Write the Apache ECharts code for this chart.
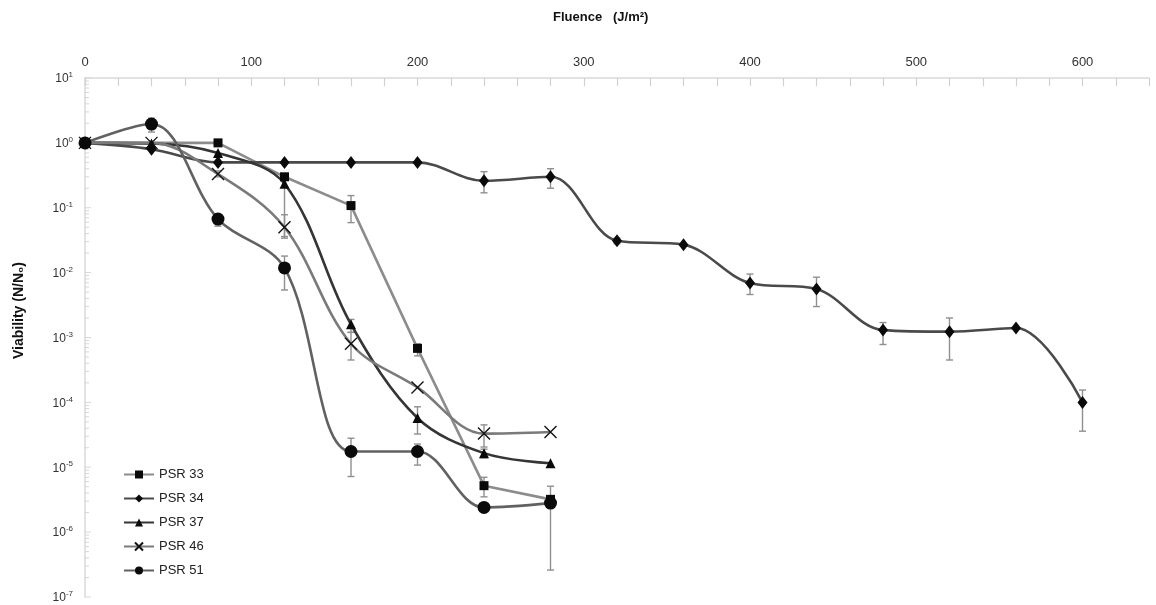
<!DOCTYPE html>
<html>
<head>
<meta charset="utf-8">
<script src="https://cdn.jsdelivr.net/npm/echarts@6/dist/echarts.min.js"></script>
<style>
  html, body { margin: 0; padding: 0; background: #fff; }
  #chart { width: 1156px; height: 605px; }
</style>
</head>
<body>
<div id="chart"></div>
<script>
// Fluence doses (J/m²)
const fluenceShort = [0, 40, 80, 120, 160, 200, 240, 280];
const fluence33 = [0, 80, 120, 160, 200, 240, 280];
const fluence34 = [0, 40, 80, 120, 160, 200, 240, 280, 320, 360, 400, 440, 480, 520, 560, 600];

// Viability N/N0 per strain
const psr33 = [1.0, 1.0, 0.30, 0.108, 0.00068, 0.0000052, 0.0000032];
const psr34 = [1.0, 0.80, 0.50, 0.50, 0.50, 0.50, 0.26, 0.30, 0.031, 0.027, 0.0069, 0.0056, 0.0013, 0.00123, 0.0014, 0.0001];
const psr37 = [1.0, 0.98, 0.70, 0.235, 0.0016, 0.0000575, 0.0000165, 0.0000115];
const psr46 = [1.0, 1.0, 0.33, 0.050, 0.00080, 0.00017, 0.000033, 0.000035];
const psr51 = [1.0, 1.95, 0.067, 0.0118, 0.0000175, 0.0000175, 0.0000024, 0.0000028];

// Error bars: [fluence, low, high]
const err33 = [[160, 0.059, 0.154], [200, 0.00052, 0.00080], [240, 0.0000035, 0.0000070]];
const err34 = [[240, 0.17, 0.36], [280, 0.20, 0.40], [320, 0.028, 0.034], [400, 0.0046, 0.0095],
               [440, 0.0030, 0.0085], [480, 0.00078, 0.0017], [520, 0.00045, 0.0020], [600, 0.000036, 0.000155]];
const err37 = [[120, 0.034, 0.30], [160, 0.0012, 0.0019], [200, 0.0000325, 0.0000855], [240, 0.000014, 0.000019]];
const err46 = [[80, 0.30, 0.37], [120, 0.036, 0.078], [160, 0.00045, 0.0012], [240, 0.0000205, 0.000045]];
const err51 = [[40, 1.47, 2.4], [80, 0.052, 0.074], [120, 0.0054, 0.018], [160, 0.0000072, 0.000028],
               [200, 0.0000108, 0.0000228], [280, 0.00000026, 0.0000051]];

const seriesNames = ['PSR 33', 'PSR 34', 'PSR 37', 'PSR 46', 'PSR 51'];

const FONT = '"Liberation Sans", Arial, sans-serif';

function pairs(xs, ys) { return xs.map((x, i) => [x, ys[i]]); }

function lineSeries(name, xs, ys, color, symbol, size, smooth, extra) {
  return Object.assign({
    name: name,
    type: 'line',
    data: pairs(xs, ys),
    smooth: smooth,
    symbol: symbol,
    symbolSize: size,
    showSymbol: true,
    lineStyle: { color: color, width: 2.6 },
    itemStyle: { color: '#0a0a0a', borderColor: '#0a0a0a', borderWidth: 0 },
    z: 3
  }, extra || {});
}

function errorSeries(data) {
  return {
    type: 'custom',
    data: data,
    z: 2,
    silent: true,
    renderItem: function (params, api) {
      const x = api.value(0);
      const lo = api.coord([x, api.value(1)]);
      const hi = api.coord([x, api.value(2)]);
      const cap = 3.5;
      const st = { stroke: '#8f8f8f', lineWidth: 1.4 };
      return {
        type: 'group',
        children: [
          { type: 'line', shape: { x1: lo[0], y1: lo[1], x2: hi[0], y2: hi[1] }, style: st },
          { type: 'line', shape: { x1: lo[0] - cap, y1: lo[1], x2: lo[0] + cap, y2: lo[1] }, style: st },
          { type: 'line', shape: { x1: hi[0] - cap, y1: hi[1], x2: hi[0] + cap, y2: hi[1] }, style: st }
        ]
      };
    }
  };
}

// Log-spaced minor ticks along the left axis
const minorTickValues = [];
for (let e = -7; e <= 0; e++) {
  for (let k = 1; k <= 9; k++) minorTickValues.push([0, k * Math.pow(10, e)]);
}
minorTickValues.push([0, 10]);

const minorTickSeries = {
  type: 'custom',
  data: minorTickValues,
  silent: true,
  z: 1,
  renderItem: function (params, api) {
    const p = api.coord([0, api.value(1)]);
    const v = api.value(1);
    const major = Math.abs(Math.log10(v) - Math.round(Math.log10(v))) < 1e-9;
    return {
      type: 'line',
      shape: { x1: p[0], y1: p[1], x2: p[0] + (major ? 6 : 4), y2: p[1] },
      style: { stroke: '#d6d6d6', lineWidth: 1 }
    };
  }
};

const crossSymbol = 'path://M0,0L10,10M10,0L0,10';

const chart = echarts.init(document.getElementById('chart'), null, { renderer: 'canvas' });

chart.setOption({
  animation: false,
  backgroundColor: '#ffffff',
  textStyle: { fontFamily: FONT },
  grid: { left: 85, right: 7, top: 78, bottom: 5, containLabel: false },
  xAxis: {
    type: 'value',
    position: 'top',
    min: 0,
    max: 640,
    interval: 20,
    axisLine: { show: true, lineStyle: { color: '#d9d9d9', width: 1.5 } },
    axisTick: { show: true, inside: true, length: 8, lineStyle: { color: '#d0d0d0', width: 1.2 } },
    axisLabel: {
      margin: 9,
      color: '#333',
      fontSize: 13,
      fontFamily: FONT,
      formatter: function (v) { return v % 100 === 0 ? String(v) : ''; }
    },
    splitLine: { show: false }
  },
  yAxis: {
    type: 'log',
    logBase: 10,
    min: 1e-7,
    max: 10,
    axisLine: { show: true, lineStyle: { color: '#d9d9d9', width: 1.5 } },
    axisTick: { show: false },
    splitLine: { show: false },
    axisLabel: {
      margin: 12,
      color: '#333',
      fontFamily: FONT,
      formatter: function (v) {
        const e = Math.round(Math.log10(v));
        return '{b|10}{s|' + e + '}';
      },
      rich: {
        b: { fontSize: 12, fontFamily: FONT, color: '#333', verticalAlign: 'bottom', lineHeight: 14 },
        s: { fontSize: 8, fontFamily: FONT, color: '#333', verticalAlign: 'top', lineHeight: 14, padding: [0, 0, 7, 0] }
      }
    }
  },
  legend: {
    orient: 'vertical',
    left: 118,
    top: 463,
    itemWidth: 30,
    itemHeight: 10,
    itemGap: 11,
    data: seriesNames,
    textStyle: { fontSize: 13, color: '#222', fontFamily: FONT }
  },
  graphic: [
    {
      type: 'text',
      left: 553,
      top: 11,
      style: { text: 'Fluence   (J/m²)', font: 'bold 13px ' + FONT, fill: '#111' }
    },
    {
      type: 'text',
      left: 12,
      top: 262,
      rotation: Math.PI / 2,
      originX: 0,
      originY: 0,
      style: { text: 'Viability (N/N₀)', font: 'bold 14px ' + FONT, fill: '#111' }
    }
  ],
  series: [
    minorTickSeries,
    errorSeries(err33),
    errorSeries(err34),
    errorSeries(err37),
    errorSeries(err46),
    errorSeries(err51),
    lineSeries('PSR 33', fluence33, psr33, '#8c8c8c', 'rect', 9, false),
    lineSeries('PSR 34', fluence34, psr34, '#4a4a4a', 'diamond', [10, 13], 0.35),
    lineSeries('PSR 37', fluenceShort, psr37, '#353535', 'triangle', 10, 0.35),
    lineSeries('PSR 46', fluenceShort, psr46, '#7a7a7a', crossSymbol, 12, 0.35, {
      itemStyle: { color: 'rgba(0,0,0,0)', borderColor: '#111', borderWidth: 1.4 }
    }),
    lineSeries('PSR 51', fluenceShort, psr51, '#616161', 'circle', 13, 0.35)
  ]
});
</script>
</body>
</html>
